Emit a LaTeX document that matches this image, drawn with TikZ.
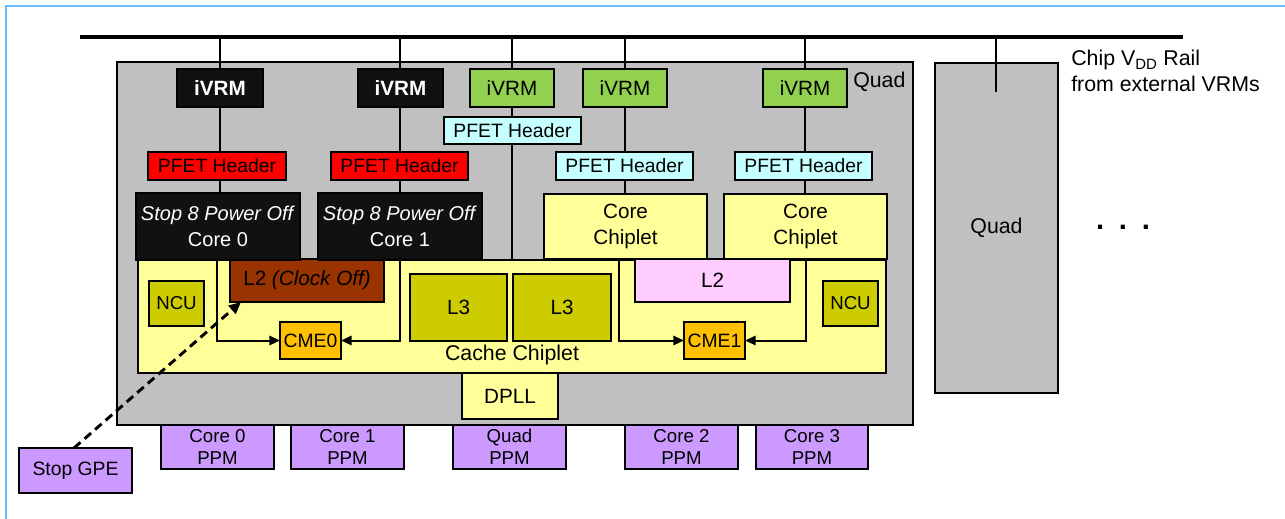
\documentclass[tikz,border=0pt]{standalone}
\usepackage{fontspec}
\setmainfont{Liberation Sans}
\usetikzlibrary{arrows.meta}
\definecolor{framecol}{HTML}{66BBFF}
\definecolor{quadgray}{HTML}{C0C0C0}
\definecolor{chipyel}{HTML}{FFFF99}
\definecolor{olive}{HTML}{CCCC00}
\definecolor{brownl}{HTML}{993300}
\definecolor{pinkl}{HTML}{FFCCFF}
\definecolor{orangec}{HTML}{FFC000}
\definecolor{purplep}{HTML}{CC99FF}
\definecolor{greenv}{HTML}{92D050}
\definecolor{cyanp}{HTML}{C6FFFF}
\definecolor{redp}{HTML}{FF0000}
\definecolor{blackb}{HTML}{111111}
\newcommand{\bx}[7]{\node[#6, minimum width={(#4-#2)*0.75pt}, minimum height={(#5-#3)*0.75pt}] (#1) at ({(#2+#4)/2},{(#3+#5)/2}) {#7};}
\tikzset{
  box/.style={draw=black, line width=1.1pt, inner sep=0pt, outer sep=0pt, align=center, font=\fontsize{15.5}{19}\selectfont},
  corebox/.style={font=\fontsize{15}{19}\selectfont},
  small/.style={font=\fontsize{14}{16.5}\selectfont},
  pfet/.style={font=\fontsize{14.5}{17}\selectfont},
  wire/.style={line width=1pt},
  arr/.style={line width=1.5pt, -{Triangle[length=8pt,width=7pt]}},
  darr/.style={line width=2.2pt, dash pattern=on 6.5pt off 4pt, -{Triangle[length=9pt,width=8pt]}},
  lbl/.style={font=\fontsize{16}{19}\selectfont, inner sep=0pt}
}
\begin{document}
\begin{tikzpicture}[x=0.75pt,y=-0.75pt]
\useasboundingbox (0,0) rectangle (1285,518);
\draw[framecol, line width=2.2pt] (6,530) -- (6,6) -- (1295,6);
% quads
\bx{quad}{117}{62}{913}{425}{box, fill=quadgray}{}
\bx{quad2}{935}{63}{1058}{393}{box, fill=quadgray, font=\fontsize{16}{19}\selectfont}{Quad}
\node[lbl, anchor=west] (quadlbl) at (853,82) {Quad};
% rail
\coordinate (railL) at (80,37);
\coordinate (railR) at (1183,37);
\draw[line width=3pt] (railL) -- (railR);
\coordinate (r1) at (220,37);
\coordinate (r2) at (400,37);
\coordinate (r3) at (512,37);
\coordinate (r4) at (625,37);
\coordinate (r5) at (805,37);
\coordinate (r6) at (996,37);
\coordinate (q2in) at (996,92);
\draw[wire] (r6) -- (q2in);
\draw[wire] (r1) -- (220,193);
\draw[wire] (r2) -- (400,193);
\draw[wire] (r3) -- (512,260);
\draw[wire] (r4) -- (625,194);
\draw[wire] (r5) -- (805,194);
% cache chiplet
\bx{cache}{138}{260}{886}{373}{box, fill=chipyel}{}
\node[lbl] (cachelbl) at (512,355) {Cache Chiplet};
\bx{ncu0}{149}{281}{204}{326}{box, small, fill=olive}{NCU}
\bx{ncu1}{823}{281}{878}{326}{box, small, fill=olive}{NCU}
\bx{l3a}{410}{274}{507}{341}{box, fill=olive}{L3}
\bx{l3b}{513}{274}{611}{341}{box, fill=olive}{L3}
\bx{l2a}{230}{259}{384}{302}{box, fill=brownl}{L2 \textit{(Clock Off)}}
\bx{l2b}{635}{259}{790}{302}{box, fill=pinkl}{L2}
% cores
\bx{core0}{136}{193}{300}{260}{box, corebox, fill=blackb, text=white}{\textit{Stop 8 Power Off}\\Core 0}
\bx{core1}{318}{193}{482}{260}{box, corebox, fill=blackb, text=white}{\textit{Stop 8 Power Off}\\Core 1}
\bx{cc0}{544}{194}{707}{259}{box, fill=chipyel}{Core\\Chiplet}
\bx{cc1}{724}{194}{887}{259}{box, fill=chipyel}{Core\\Chiplet}
% iVRMs
\bx{v1}{177}{69}{263}{107}{box, fill=blackb, text=white, font=\fontsize{15.5}{17}\selectfont\bfseries}{iVRM}
\bx{v2}{358}{69}{443}{107}{box, fill=blackb, text=white, font=\fontsize{15.5}{17}\selectfont\bfseries}{iVRM}
\bx{v3}{470}{69}{554}{107}{box, fill=greenv}{iVRM}
\bx{v4}{583}{69}{667}{107}{box, fill=greenv}{iVRM}
\bx{v5}{763}{69}{847}{107}{box, fill=greenv}{iVRM}
% PFETs
\bx{p3}{444}{117}{581}{144}{box, pfet, fill=cyanp}{PFET Header}
\bx{p1}{148}{152}{286}{180}{box, pfet, fill=redp}{PFET Header}
\bx{p2}{331}{152}{468}{180}{box, pfet, fill=redp}{PFET Header}
\bx{p4}{556}{152}{693}{180}{box, pfet, fill=cyanp}{PFET Header}
\bx{p5}{735}{152}{872}{180}{box, pfet, fill=cyanp}{PFET Header}
% CMEs
\bx{cme0}{280}{322}{341}{359}{box, pfet, fill=orangec}{CME0}
\bx{cme1}{684}{322}{745}{359}{box, pfet, fill=orangec}{CME1}
\draw[arr] ([xshift=-0.75pt]core0.south) |- (cme0.west);
\draw[arr] (core1.south) |- (cme0.east);
\draw[arr] ([xshift=-4.9pt]cc0.south) |- (cme1.west);
\draw[arr] (cc1.south) |- (cme1.east);
% DPLL and PPMs
\bx{dpll}{462}{373}{558}{419}{box, fill=chipyel}{DPLL}
\bx{ppm0}{161}{425}{274}{469}{box, small, fill=purplep}{Core 0\\PPM}
\bx{ppm1}{291}{425}{404}{469}{box, small, fill=purplep}{Core 1\\PPM}
\bx{ppmq}{453}{425}{566}{469}{box, small, fill=purplep}{Quad\\PPM}
\bx{ppm2}{625}{425}{738}{469}{box, small, fill=purplep}{Core 2\\PPM}
\bx{ppm3}{756}{425}{868}{469}{box, small, fill=purplep}{Core 3\\PPM}
\bx{gpe}{19}{448}{132}{493}{box, pfet, fill=purplep}{Stop GPE}
\coordinate (gpestart) at (74,448);
\coordinate (l2tip) at (241,302);
\draw[darr] (gpestart) -- (l2tip);
% text
\node[lbl, anchor=west, align=left] (railtxt) at (1071,71) {Chip V\textsubscript{DD} Rail\\from external VRMs};
\node[font=\fontsize{22}{22}\selectfont\bfseries, inner sep=0pt] (dots) at (1123,227) {.\hspace{11pt}.\hspace{11pt}.};
\end{tikzpicture}
\end{document}
